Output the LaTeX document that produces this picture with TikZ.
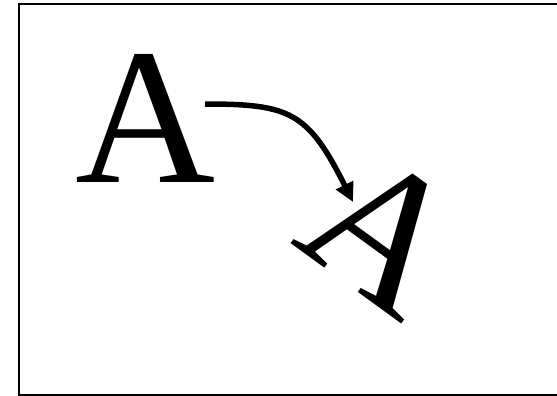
\documentclass[tikz,border=0pt]{standalone}
\usepackage{fontspec}
\setmainfont{Liberation Serif}
\usetikzlibrary{arrows.meta}
\tikzset{
  bigletter/.style={inner sep=0pt, outer sep=0pt, font=\fontsize{194}{194}\selectfont},
  curvearrow/.style={line width=5.5pt, -{Triangle[length=19pt,width=18.5pt]}},
  frame/.style={line width=2.2pt}
}
\begin{document}
\begin{tikzpicture}[x=1pt,y=-1pt]
\useasboundingbox (0,0) rectangle (557,396);
\draw[frame] (18.7,4) rectangle (570,395);
\node[bigletter] (a1) at (146,118.5) {A};
\node[bigletter, rotate=-36] (a2) at (383.5,231.5) {A};
\coordinate (s) at (205,104);
\coordinate (t) at (353,202);
\draw[curvearrow] (s) .. controls (290,104) and (308,112) .. (t);
\end{tikzpicture}
\end{document}
